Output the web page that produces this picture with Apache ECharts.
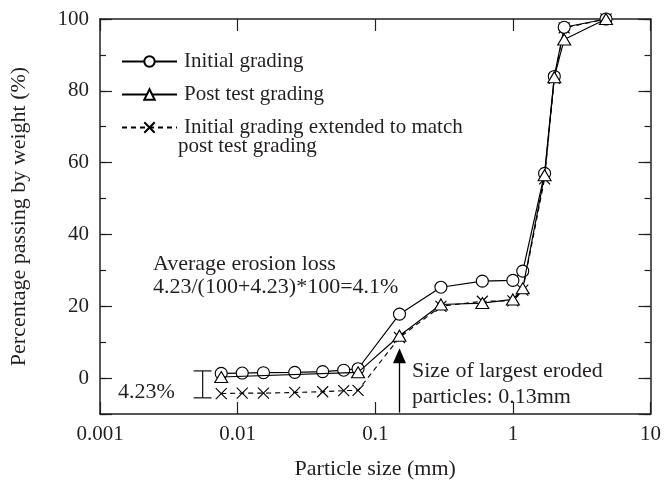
<!DOCTYPE html>
<html>
<head>
<meta charset="utf-8">
<script src="https://cdn.jsdelivr.net/npm/echarts@6/dist/echarts.min.js"></script>
<style>
  html, body { margin: 0; padding: 0; background: #fff; }
  #chart { width: 664px; height: 485px; }
</style>
</head>
<body>
<div id="chart"></div>
<script>
// Particle sizes (mm) and percentage passing for each grading curve
const sizeInitial = [0.0076, 0.0108, 0.0154, 0.026, 0.0415, 0.059, 0.075, 0.15, 0.3, 0.6, 1.0, 1.18, 1.7, 2.0, 2.36, 4.75];
const passInitial = [1.3, 1.4, 1.5, 1.6, 1.8, 2.2, 2.6, 17.8, 25.3, 27.0, 27.2, 29.8, 57.0, 84.0, 97.7, 100];

const sizePost = [0.0076, 0.075, 0.15, 0.3, 0.6, 1.0, 1.18, 1.7, 2.0, 2.36, 4.75];
const passPost = [0.3, 1.6, 11.8, 20.5, 20.9, 21.9, 25.0, 56.5, 83.8, 94.3, 100];

const sizeExtended = sizeInitial;
const passExtended = [-4.3, -4.2, -4.2, -4.0, -3.8, -3.5, -3.4, 11.3, 20.0, 21.4, 21.5, 24.5, 55.5, 83.5, 97.5, 100];

// Axis ticks
const xTickValues = [0.001, 0.01, 0.1, 1, 10];
const xTickLabels = ['0.001', '0.01', '0.1', '1', '10'];

// Erosion loss bracket (size, upper %, lower %) and largest eroded size marker
const lossBracket = [0.00557, 2.0, -5.5];
const largestEroded = 0.15;
const arrowRange = [-9.6, 6.2];

const seriesNames = ['Initial grading', 'Post test grading', 'Initial grading extended to match post test grading'];

const FONT = '"Liberation Serif", "Times New Roman", serif';
const INK = '#231f20';

function pair(xs, ys) { return xs.map((x, i) => [x, ys[i]]); }

const chart = echarts.init(document.getElementById('chart'), null, { renderer: 'canvas' });

const xBase = {
  type: 'log', logBase: 10, min: 0.001, max: 10,
  axisLine: { onZero: false, lineStyle: { color: INK, width: 1.5 } },
  axisTick: { inside: true, length: 12, lineStyle: { color: INK, width: 1.2 } },
  minorTick: { show: false },
  splitLine: { show: false }
};
// major ticks every 20 %
const yBase = {
  type: 'value', min: -10, max: 100, splitNumber: 5,
  axisLine: { show: true, onZero: false, lineStyle: { color: INK, width: 1.5 } },
  axisTick: { show: true, inside: true, length: 12, lineStyle: { color: INK, width: 1.2 } },
  splitLine: { show: false }
};
// short ticks every 10 %
const yMinor = {
  type: 'value', min: -10, max: 100, interval: 10,
  axisLine: { show: false, onZero: false },
  axisTick: { show: true, inside: true, length: 6, lineStyle: { color: INK, width: 1.2 } },
  axisLabel: { show: false },
  splitLine: { show: false }
};

const symStyle = { color: '#fff', borderColor: '#000', borderWidth: 1.1 };

const option = {
  animation: false,
  backgroundColor: '#fff',
  grid: { left: 89, right: 12, top: 19, bottom: 63 },
  xAxis: [
    Object.assign({}, xBase, {
      position: 'bottom',
      name: 'Particle size (mm)', nameLocation: 'middle', nameGap: 44,
      nameTextStyle: { fontFamily: FONT, fontSize: 22, color: INK },
      axisLabel: {
        margin: 10, fontFamily: FONT, fontSize: 21, color: INK,
        formatter: v => {
          const i = xTickValues.findIndex(t => Math.abs(Math.log10(t) - Math.log10(v)) < 1e-6);
          return i >= 0 ? xTickLabels[i] : '';
        }
      }
    }),
    Object.assign({}, xBase, { position: 'top', axisLabel: { show: false } })
  ],
  yAxis: [
    Object.assign({}, yBase, {
      position: 'left',
      name: 'Percentage passing by weight (%)', nameLocation: 'middle', nameGap: 70,
      nameTextStyle: { fontFamily: FONT, fontSize: 22, color: INK },
      axisLabel: { margin: 11, fontFamily: FONT, fontSize: 21, color: INK,
        formatter: v => (v >= 0 && v % 20 === 0) ? String(v) : '' }
    }),
    Object.assign({}, yBase, { position: 'right', axisLabel: { show: false } }),
    Object.assign({}, yMinor, { position: 'left' }),
    Object.assign({}, yMinor, { position: 'right' })
  ],
  legend: {
    left: 116, top: 46, orient: 'vertical',
    itemWidth: 55, itemHeight: 13, itemGap: 12,
    selectedMode: false,
    data: seriesNames,
    textStyle: { fontFamily: FONT, fontSize: 21, color: INK, padding: [0, 0, 0, 2] },
    formatter: name => name === seriesNames[2] ? 'Initial grading extended to match' : name
  },
  graphic: [
    { type: 'text', left: 178, top: 136, style: { text: 'post test grading', font: '21px ' + FONT, fill: INK } },
    { type: 'text', left: 153, top: 253, style: { text: 'Average erosion loss', font: '22px ' + FONT, fill: INK } },
    { type: 'text', left: 153, top: 276, style: { text: '4.23/(100+4.23)*100=4.1%', font: '22px ' + FONT, fill: INK } },
    { type: 'text', left: 118, top: 381, style: { text: '4.23%', font: '22px ' + FONT, fill: INK } },
    { type: 'text', left: 412, top: 360, style: { text: 'Size of largest eroded', font: '22px ' + FONT, fill: INK } },
    { type: 'text', left: 412, top: 386, style: { text: 'particles: 0.13mm', font: '22px ' + FONT, fill: INK } }
  ],
  series: [
    {
      name: seriesNames[0], type: 'line', data: pair(sizeInitial, passInitial),
      symbol: 'circle', symbolSize: 12, z: 3,
      lineStyle: { color: '#000', width: 1.2 },
      itemStyle: symStyle
    },
    {
      name: seriesNames[1], type: 'line', data: pair(sizePost, passPost),
      symbol: 'triangle', symbolSize: [13, 11], z: 4,
      lineStyle: { color: '#000', width: 1.2 },
      itemStyle: symStyle
    },
    {
      name: seriesNames[2], type: 'line', data: pair(sizeExtended, passExtended),
      symbol: 'path://M0,0L10,10M10,0L0,10', symbolSize: 11, z: 2,
      lineStyle: { color: '#000', width: 1.1, type: [5, 4] },
      itemStyle: symStyle
    },
    {
      // bracket marking the 4.23% erosion loss
      type: 'custom', z: 5, silent: true,
      data: [lossBracket],
      renderItem: (params, api) => {
        const top = api.coord([api.value(0), api.value(1)]);
        const bot = api.coord([api.value(0), api.value(2)]);
        const s = { stroke: INK, lineWidth: 1.3 };
        return {
          type: 'group', children: [
            { type: 'line', shape: { x1: top[0], y1: top[1], x2: bot[0], y2: bot[1] }, style: s },
            { type: 'line', shape: { x1: top[0] - 9, y1: top[1], x2: top[0] + 9, y2: top[1] }, style: s },
            { type: 'line', shape: { x1: bot[0] - 9, y1: bot[1], x2: bot[0] + 9, y2: bot[1] }, style: s }
          ]
        };
      }
    },
    {
      // arrow pointing at the largest eroded particle size
      type: 'line', data: [], z: 6, silent: true,
      markLine: {
        silent: true, animation: false,
        symbol: ['none', 'triangle'], symbolSize: [13, 15],
        label: { show: false },
        lineStyle: { color: '#000', width: 1.3, type: 'solid' },
        data: [[{ coord: [largestEroded, arrowRange[0]] }, { coord: [largestEroded, arrowRange[1]] }]]
      }
    }
  ]
};

chart.setOption(option);
</script>
</body>
</html>
